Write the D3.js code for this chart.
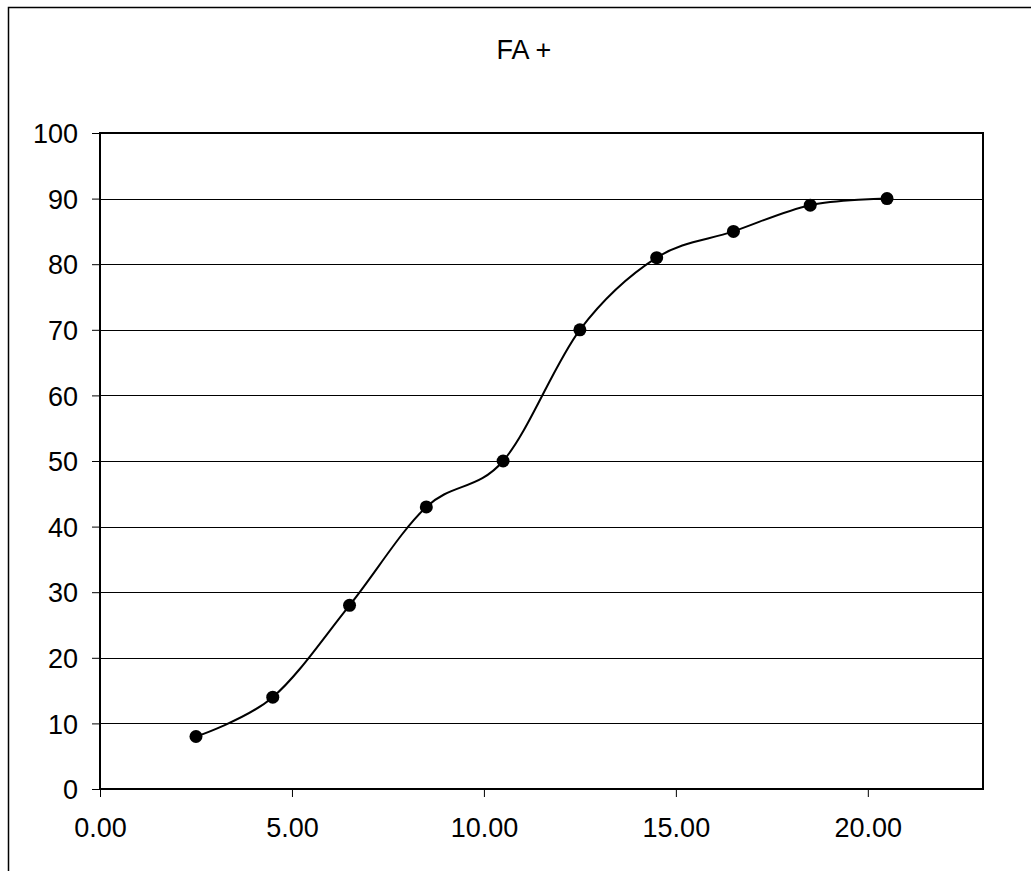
<!DOCTYPE html>
<html>
<head>
<meta charset="utf-8">
<script src="https://cdn.jsdelivr.net/npm/d3@7"></script>
<style>
  body { margin: 0; background: #fff; }
  text { font-family: "Liberation Sans", Arial, sans-serif; fill: #000; }
</style>
</head>
<body>
<div id="plot"></div>
<script>
let xValues = [2.5, 4.5, 6.5, 8.5, 10.5, 12.5, 14.5, 16.5, 18.5, 20.5]
let yValues = [8, 14, 28, 43, 50, 70, 81, 85, 89, 90]
let xTicks = [0, 5, 10, 15, 20]
let yTicks = [0, 10, 20, 30, 40, 50, 60, 70, 80, 90, 100]
let chartTitle = "FA +"

let svgWidth = 1031
let svgHeight = 871

let margin = { top: 133, right: 48, bottom: 82, left: 100 }
let width = svgWidth - margin.left - margin.right
let height = svgHeight - margin.top - margin.bottom

let svg = d3.select("#plot")
  .append("svg")
  .attr("width", svgWidth)
  .attr("height", svgHeight)

// outer chart border (runs off the right and bottom)
svg.append("rect")
  .attr("x", 8.5)
  .attr("y", 7.5)
  .attr("width", 1100)
  .attr("height", 1000)
  .attr("fill", "none")
  .attr("stroke", "#000")
  .attr("stroke-width", 1.5)

svg.append("text")
  .attr("x", 524)
  .attr("y", 59)
  .attr("text-anchor", "middle")
  .style("font-size", "27px")
  .text(chartTitle)

let chart = svg.append("g")
  .attr("transform", `translate(${margin.left}, ${margin.top})`)

let x = d3.scaleLinear().domain([0, 23]).range([0, width])
let y = d3.scaleLinear().domain([0, 100]).range([height, 0])

// gridlines
chart.selectAll(".grid")
  .data(yTicks.slice(1))
  .enter()
  .append("line")
  .attr("x1", 0)
  .attr("x2", width)
  .attr("y1", d => Math.round(y(d)) + 0.5)
  .attr("y2", d => Math.round(y(d)) + 0.5)
  .attr("stroke", "#000")
  .attr("stroke-width", 1)

chart.append("rect")
  .attr("x", 0)
  .attr("y", 0)
  .attr("width", width)
  .attr("height", height)
  .attr("fill", "none")
  .attr("stroke", "#000")
  .attr("stroke-width", 2)

let xAxis = chart.append("g")
  .attr("transform", `translate(0, ${height})`)
  .call(d3.axisBottom(x).tickValues(xTicks).tickFormat(d3.format(".2f")).tickSize(8).tickPadding(21))
let yAxis = chart.append("g")
  .call(d3.axisLeft(y).tickValues(yTicks).tickSize(8).tickPadding(14))

;[xAxis, yAxis].forEach(a => {
  a.attr("font-size", null).attr("font-family", null)
  a.select(".domain").remove()
  a.selectAll("line").attr("stroke", "#000")
  a.selectAll("text").style("font-size", "27px")
})
yAxis.selectAll("text").attr("dy", "0.36em")

let points = xValues.map((v, i) => [v, yValues[i]])

let line = d3.line()
  .x(d => x(d[0]))
  .y(d => y(d[1]))
  .curve(d3.curveCardinal.tension(0))

chart.append("path")
  .datum(points)
  .attr("d", line)
  .attr("fill", "none")
  .attr("stroke", "#000")
  .attr("stroke-width", 2)

chart.selectAll("circle")
  .data(points)
  .enter()
  .append("circle")
  .attr("cx", d => x(d[0]))
  .attr("cy", d => y(d[1]))
  .attr("r", 6.5)
  .attr("fill", "#000")
</script>
</body>
</html>
